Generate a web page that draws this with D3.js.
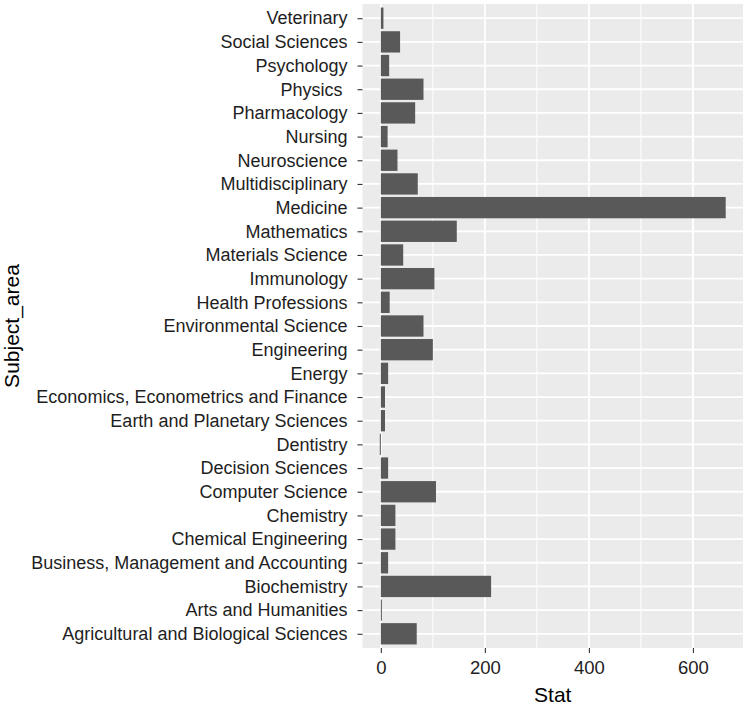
<!DOCTYPE html>
<html>
<head>
<meta charset="utf-8">
<script src="https://cdn.jsdelivr.net/npm/d3@7"></script>
<style>
  html, body { margin: 0; padding: 0; background: #fff; }
  svg text { font-family: "Liberation Sans", Arial, sans-serif; white-space: pre; }
</style>
</head>
<body>
<svg id="chart" width="749" height="709"></svg>
<script>
// Categories in top-to-bottom display order
const categories = [
  "Veterinary", "Social Sciences", "Psychology", "Physics ", "Pharmacology",
  "Nursing", "Neuroscience", "Multidisciplinary", "Medicine", "Mathematics",
  "Materials Science", "Immunology", "Health Professions", "Environmental Science",
  "Engineering", "Energy", "Economics, Econometrics and Finance",
  "Earth and Planetary Sciences", "Dentistry", "Decision Sciences",
  "Computer Science", "Chemistry", "Chemical Engineering",
  "Business, Management and Accounting", "Biochemistry", "Arts and Humanities",
  "Agricultural and Biological Sciences"
];
const statValues = [
  5, 37, 16, 82, 66,
  13, 32, 71, 663, 146,
  43, 103, 17, 82,
  100, 14, 8,
  8, -2, 14,
  106, 28, 28,
  14, 212, 2,
  69
];
const xTicks = [0, 200, 400, 600];
const xMinorTicks = [100, 300, 500];
const xTitle = "Stat";
const yTitle = "Subject_area";

const data = categories.map((c, i) => ({ cat: c, value: statValues[i] }));

const svg = d3.select("#chart");
const panel = { left: 362.5, right: 743, top: 4, bottom: 648 };

const ext = d3.extent([0, ...statValues]);
const pad = (ext[1] - ext[0]) * 0.05;
const x = d3.scaleLinear().domain([ext[0] - pad, ext[1] + pad]).range([panel.left, panel.right]);

// emulate ggplot discrete expansion (0.6 units each side) with 0.9 bar width
const n = categories.length;
const unit = (panel.bottom - panel.top) / (n - 1 + 1.2);
const yc = d3.scalePoint().domain(categories).range([panel.top + 0.6 * unit, panel.bottom - 0.6 * unit]);
const barH = unit * 0.9;

// panel background
svg.append("rect")
  .attr("x", panel.left).attr("y", panel.top)
  .attr("width", panel.right - panel.left).attr("height", panel.bottom - panel.top)
  .attr("fill", "#EBEBEB");

// minor vertical grid
svg.append("g").selectAll("line").data(xMinorTicks).join("line")
  .attr("x1", d => x(d)).attr("x2", d => x(d))
  .attr("y1", panel.top).attr("y2", panel.bottom)
  .attr("stroke", "#fff").attr("stroke-width", 1);

// major vertical grid
svg.append("g").selectAll("line").data(xTicks).join("line")
  .attr("x1", d => x(d)).attr("x2", d => x(d))
  .attr("y1", panel.top).attr("y2", panel.bottom)
  .attr("stroke", "#fff").attr("stroke-width", 1.8);

// horizontal grid
svg.append("g").selectAll("line").data(categories).join("line")
  .attr("x1", panel.left).attr("x2", panel.right)
  .attr("y1", d => yc(d)).attr("y2", d => yc(d))
  .attr("stroke", "#fff").attr("stroke-width", 1.8);

// bars
svg.append("g").selectAll("rect").data(data).join("rect")
  .attr("x", d => x(Math.min(0, d.value)))
  .attr("width", d => Math.max(0.8, Math.abs(x(d.value) - x(0))))
  .attr("y", d => yc(d.cat) - barH / 2)
  .attr("height", barH)
  .attr("fill", "#595959");

// x axis
const xAxis = d3.axisBottom(x).tickValues(xTicks).tickSize(5).tickPadding(3).tickFormat(d3.format("d"));
const gx = svg.append("g").attr("transform", `translate(0,${panel.bottom})`).call(xAxis);
gx.select(".domain").remove();
gx.selectAll(".tick line").attr("stroke", "#333").attr("stroke-width", 1.1);
gx.selectAll(".tick text").attr("fill", "#1e1e1e").attr("font-size", 18.5).attr("dy", "0.95em")
  .style("font-family", '"Liberation Sans", Arial, sans-serif');

// y axis
const yAxis = d3.axisLeft(yc).tickSize(5).tickPadding(10);
const gy = svg.append("g").attr("transform", `translate(${panel.left},0)`).call(yAxis);
gy.select(".domain").remove();
gy.selectAll(".tick line").attr("stroke", "#333").attr("stroke-width", 1.1);
gy.selectAll(".tick text").attr("fill", "#1e1e1e").attr("font-size", 18)
  .style("font-family", '"Liberation Sans", Arial, sans-serif')
  .style("white-space", "pre");

// axis titles
svg.append("text")
  .attr("x", (panel.left + panel.right) / 2).attr("y", 702)
  .attr("text-anchor", "middle").attr("font-size", 21).attr("fill", "#000")
  .text(xTitle);

svg.append("text")
  .attr("transform", `translate(19,${(panel.top + panel.bottom) / 2}) rotate(-90)`)
  .attr("text-anchor", "middle").attr("font-size", 21).attr("fill", "#000")
  .text(yTitle);
</script>
</body>
</html>
